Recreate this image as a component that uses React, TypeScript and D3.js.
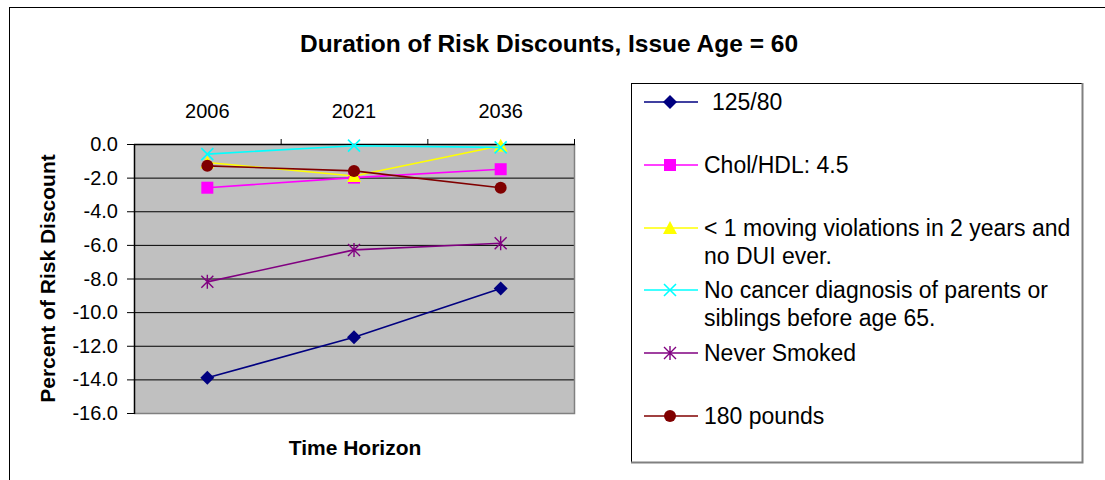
import React from 'react';
import * as d3 from 'd3';

const years = ['2006', '2021', '2036'];
const bp = [-13.9, -11.5, -8.6];
const chol = [-2.6, -2.0, -1.5];
const driving = [-1.1, -1.9, -0.1];
const cancer = [-0.6, -0.1, -0.2];
const smoke = [-8.2, -6.3, -5.9];
const weight = [-1.3, -1.6, -2.6];
const yTicks = [0, -2, -4, -6, -8, -10, -12, -14, -16];

type Marker = 'diamond' | 'square' | 'triangle' | 'x' | 'star' | 'circle';

const series: { name: string[]; values: number[]; color: string; marker: Marker }[] = [
  { name: ['125/80'], values: bp, color: '#000080', marker: 'diamond' },
  { name: ['Chol/HDL: 4.5'], values: chol, color: '#FF00FF', marker: 'square' },
  { name: ['< 1 moving violations in 2 years and', 'no DUI ever.'], values: driving, color: '#FFFF00', marker: 'triangle' },
  { name: ['No cancer diagnosis of parents or', 'siblings before age 65.'], values: cancer, color: '#00FFFF', marker: 'x' },
  { name: ['Never Smoked'], values: smoke, color: '#800080', marker: 'star' },
  { name: ['180 pounds'], values: weight, color: '#800000', marker: 'circle' },
];

const FONT = '"Liberation Sans", Arial, sans-serif';

function MarkerShape({ kind, x, y, color }: { kind: Marker; x: number; y: number; color: string }) {
  const r = 6;
  switch (kind) {
    case 'diamond':
      return <path d={`M${x},${y - r - 1}L${x + r + 1},${y}L${x},${y + r + 1}L${x - r - 1},${y}Z`} fill={color} />;
    case 'square':
      return <rect x={x - r} y={y - r} width={2 * r} height={2 * r} fill={color} />;
    case 'triangle':
      return <path d={`M${x},${y - r - 1}L${x + r + 1},${y + r}L${x - r - 1},${y + r}Z`} fill={color} />;
    case 'x':
      return (
        <path d={`M${x - r},${y - r}L${x + r},${y + r}M${x - r},${y + r}L${x + r},${y - r}`} stroke={color} strokeWidth={1.6} />
      );
    case 'star':
      return (
        <path
          d={`M${x - r},${y - r}L${x + r},${y + r}M${x - r},${y + r}L${x + r},${y - r}M${x},${y - r - 1}L${x},${y + r + 1}`}
          stroke={color}
          strokeWidth={1.4}
        />
      );
    case 'circle':
      return <circle cx={x} cy={y} r={r} fill={color} />;
  }
}

export default function App() {
  const plot = { left: 134, right: 574, top: 144, bottom: 413 };

  const x = d3.scaleBand().domain(years).range([plot.left, plot.right]);
  const y = d3.scaleLinear().domain([-16, 0]).range([plot.bottom, plot.top]);
  const cx = (d: string) => (x(d) ?? 0) + x.bandwidth() / 2;

  const line = d3
    .line<number>()
    .x((_, i) => cx(years[i]))
    .y((v) => y(v));

  const legend = { left: 631, top: 83, right: 1082, bottom: 462 };
  const legendY = [102, 165, 228, 290, 353, 416];

  return (
    <svg
      width={1105}
      height={480}
      style={{ position: 'absolute', left: 0, top: 0, background: '#fff' }}
      fontFamily={FONT}
    >
      {/* chart frame */}
      <rect x={9.5} y={7.5} width={1200} height={600} fill="#fff" stroke="#000" />

      <text x={549} y={52} textAnchor="middle" fontSize={24.5} fontWeight="bold">
        Duration of Risk Discounts, Issue Age = 60
      </text>

      {/* plot area */}
      <rect x={plot.left} y={plot.top} width={plot.right - plot.left} height={plot.bottom - plot.top} fill="#C0C0C0" />
      {yTicks
        .filter((t) => t !== 0 && t !== -16)
        .map((t) => (
          <line key={t} x1={plot.left} x2={plot.right} y1={y(t) + 0.5} y2={y(t) + 0.5} stroke="#000" />
        ))}
      <path
        d={`M${plot.right + 0.5},${plot.top}V${plot.bottom + 0.5}H${plot.left}`}
        fill="none"
        stroke="#808080"
        strokeWidth={1.5}
      />

      {/* category axis on top */}
      <line x1={plot.left} x2={plot.right + 1} y1={plot.top + 0.5} y2={plot.top + 0.5} stroke="#000" strokeWidth={1.5} />
      {years.map((d, i) => (
        <g key={d}>
          {i > 0 && (
            <line
              x1={(x(d) ?? 0) + 0.5}
              x2={(x(d) ?? 0) + 0.5}
              y1={plot.top - 5}
              y2={plot.top}
              stroke="#000"
            />
          )}
          <text x={cx(d)} y={118} textAnchor="middle" fontSize={20}>
            {d}
          </text>
        </g>
      ))}
      <line x1={plot.right + 0.5} x2={plot.right + 0.5} y1={plot.top - 5} y2={plot.top} stroke="#000" />

      {/* value axis */}
      <line x1={plot.left + 0.5} x2={plot.left + 0.5} y1={plot.top} y2={plot.bottom + 1} stroke="#000" strokeWidth={1.5} />
      {yTicks.map((t) => (
        <g key={t}>
          <line x1={plot.left - 7} x2={plot.left} y1={y(t) + 0.5} y2={y(t) + 0.5} stroke="#000" />
          <text x={118} y={y(t) + 7} textAnchor="end" fontSize={20}>
            {t.toFixed(1)}
          </text>
        </g>
      ))}

      <text
        transform={`translate(55,${(plot.top + plot.bottom) / 2}) rotate(-90)`}
        textAnchor="middle"
        fontSize={21}
        fontWeight="bold"
      >
        Percent of Risk Discount
      </text>
      <text x={(plot.left + plot.right) / 2 + 1} y={455} textAnchor="middle" fontSize={21} fontWeight="bold">
        Time Horizon
      </text>

      {/* series */}
      {series.map((s) => (
        <g key={s.name[0]}>
          <path d={line(s.values) ?? ''} fill="none" stroke={s.color} strokeWidth={1.6} />
          {s.values.map((v, i) => (
            <MarkerShape key={i} kind={s.marker} x={cx(years[i])} y={y(v)} color={s.color} />
          ))}
        </g>
      ))}

      {/* legend */}
      <rect
        x={legend.left + 0.5}
        y={legend.top + 0.5}
        width={legend.right - legend.left}
        height={legend.bottom - legend.top}
        fill="#fff"
        stroke="#000"
      />
      <path
        d={`M${legend.right + 0.5},${legend.top}V${legend.bottom + 0.5}H${legend.left}`}
        fill="none"
        stroke="#808080"
        strokeWidth={2}
      />
      {series.map((s, i) => (
        <g key={s.name[0]}>
          <line x1={644} x2={698} y1={legendY[i]} y2={legendY[i]} stroke={s.color} strokeWidth={1.6} />
          <MarkerShape kind={s.marker} x={670} y={legendY[i]} color={s.color} />
          {s.name.map((ln, j) => (
            <text key={j} x={i === 0 ? 712 : 704} y={legendY[i] + 8 + j * 28} fontSize={23}>
              {ln}
            </text>
          ))}
        </g>
      ))}
    </svg>
  );
}
